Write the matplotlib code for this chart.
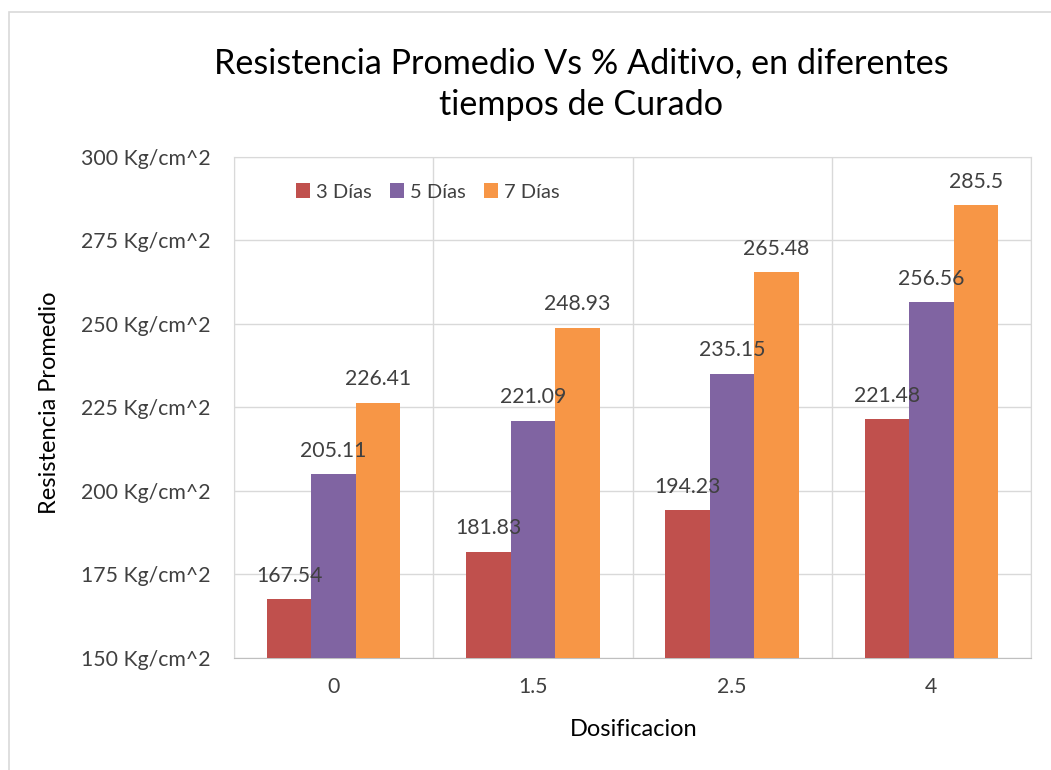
import numpy as np
import matplotlib.pyplot as plt
from matplotlib.patches import Rectangle

plt.rcParams['font.family'] = ['Lato', 'DejaVu Sans']

# datos
dosificacion = ['0', '1.5', '2.5', '4']
dias_3 = [167.54, 181.83, 194.23, 221.48]
dias_5 = [205.11, 221.09, 235.15, 256.56]
dias_7 = [226.41, 248.93, 265.48, 285.5]
series = ['3 Días', '5 Días', '7 Días']
colores = ['#C0504D', '#8064A2', '#F79646']
y_ticks = [150, 175, 200, 225, 250, 275, 300]

W, H = 1051, 770
fig = plt.figure(figsize=(W / 100, H / 100), dpi=100)
ax = fig.add_axes([234 / W, 1 - 658 / H, (1031 - 234) / W, (658 - 157) / H])

# marco del grafico
fig.patches.append(Rectangle((9 / W, -0.1), 1.2, 1 - 12 / H + 0.1, transform=fig.transFigure,
                             fill=False, edgecolor='#D9D9D9', linewidth=1.2))

x = np.arange(len(dosificacion))
ancho = 0.223
texto = '#404040'
for i, (vals, nombre, c) in enumerate(zip([dias_3, dias_5, dias_7], series, colores)):
    pos = x + (i - 1) * ancho
    ax.bar(pos, vals, ancho, color=c, label=nombre, zorder=3)
    for p, v in zip(pos, vals):
        ax.text(p, v + 4, f'{v:g}', ha='center', va='bottom', fontsize=15.3, color=texto, zorder=4)

ax.set_xlim(-0.5, len(dosificacion) - 0.5)
ax.set_ylim(150, 300)
ax.set_yticks(y_ticks)
ax.set_yticklabels([f'{t} Kg/cm^2' for t in y_ticks])
ax.set_xticks(x)
ax.set_xticklabels(dosificacion)
ax.set_xticks(np.arange(-0.5, len(dosificacion)), minor=True)
ax.tick_params(axis='both', which='both', length=0, labelsize=15.3, colors=texto)
ax.tick_params(axis='y', pad=17)
ax.tick_params(axis='x', pad=14)
ax.tick_params(axis='x', which='minor', labelbottom=False)
ax.grid(axis='y', color='#D9D9D9', linewidth=1, zorder=0)
ax.grid(axis='x', which='minor', color='#D9D9D9', linewidth=1, zorder=0)
for s in ax.spines.values():
    s.set_color('#D9D9D9')
ax.spines['bottom'].set_color('#BFBFBF')

fig.text(634 / W, 1 - 730 / H, 'Dosificacion', ha='center', va='center', fontsize=17, color='black')
fig.text(50 / W, 1 - 403 / H, 'Resistencia Promedio', ha='center', va='center', rotation=90,
         fontsize=17, color='black')

fig.text(581 / W, 1 - 84 / H, 'Resistencia Promedio Vs % Aditivo, en diferentes\ntiempos de Curado',
         ha='center', va='center', fontsize=24.6, color='black', linespacing=1.38)

ax.legend(loc='center left', bbox_to_anchor=((296 - 234) / 797, (658 - 192) / 501), ncol=3,
          frameon=False, fontsize=14.5, borderpad=0, borderaxespad=0,
          handlelength=0.7, handleheight=0.7, handletextpad=0.3, columnspacing=0.9,
          labelcolor=texto)

fig.savefig('out.png', dpi=100)
